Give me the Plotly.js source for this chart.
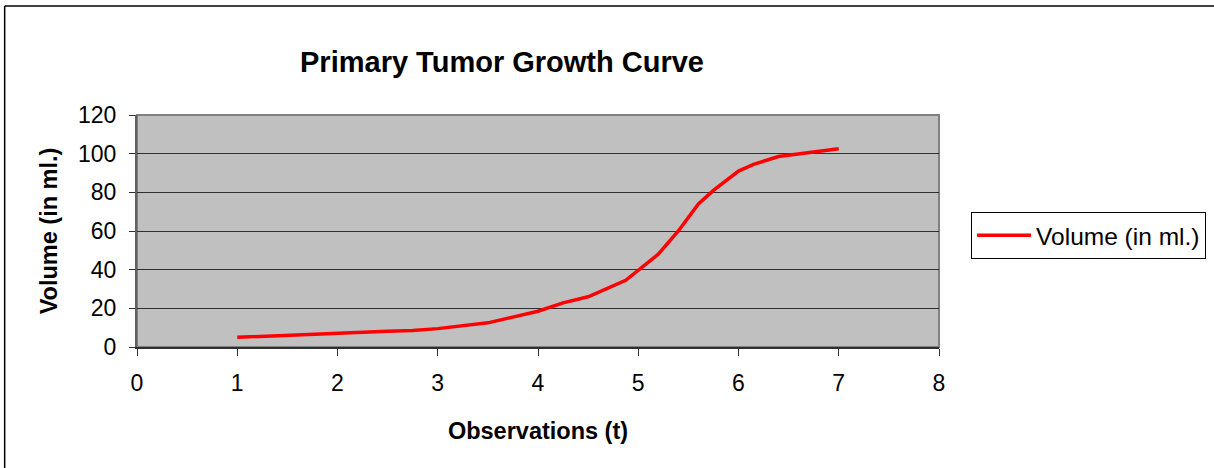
<!DOCTYPE html>
<html>
<head>
<meta charset="utf-8">
<script src="https://cdn.plot.ly/plotly-3.0.1.min.js"></script>
<style>html,body{margin:0;padding:0;background:#fff;}#chart{width:1214px;height:468px;}</style>
</head>
<body>
<div id="chart"></div>
<script>
// Data
var observations = [1, 1.5, 2, 2.5, 2.75, 3, 3.5, 4, 4.25, 4.5, 4.875, 5, 5.2, 5.4, 5.6, 5.75, 6, 6.15, 6.4, 7];
var volumeMl = [5, 6.2, 7.4, 8.2, 8.5, 9.5, 12.5, 18.5, 22.8, 26, 34.5, 39.5, 48, 60, 74, 81, 91, 94.5, 98.5, 102.5];
var seriesName = "Volume (in ml.)";
var chartTitle = "Primary Tumor Growth Curve";
var xTitle = "Observations (t)";
var yTitle = "Volume (in ml.)";

var FONT = '"Liberation Sans", Arial, sans-serif';

var trace = {
  x: observations,
  y: volumeMl,
  type: 'scatter',
  mode: 'lines',
  name: seriesName,
  line: {color: '#FF0000', width: 3.5}
};

var layout = {
  width: 1214,
  height: 468,
  margin: {l: 137, r: 275, t: 115, b: 121, pad: 0, autoexpand: false},
  paper_bgcolor: '#FFFFFF',
  plot_bgcolor: '#C0C0C0',
  font: {family: FONT, color: '#000', size: 20},
  showlegend: true,
  title: {
    text: '<b>' + chartTitle + '</b>',
    font: {family: FONT, size: 29, color: '#000'},
    x: 502 / 1214, xanchor: 'center',
    y: 1 - 62 / 468, yanchor: 'middle'
  },
  xaxis: {
    range: [0, 8],
    dtick: 1, tick0: 0,
    showgrid: false,
    zeroline: false,
    showline: true, linecolor: '#303030', linewidth: 2,
    ticks: 'outside', ticklen: 7, tickwidth: 1, tickcolor: '#303030',
    tickfont: {family: FONT, size: 23, color: '#000'},
    ticklabelstandoff: 7,
    title: {text: '<b>' + xTitle + '</b>', font: {family: FONT, size: 23.5, color: '#000'}, standoff: 28}
  },
  yaxis: {
    range: [0, 120],
    dtick: 20, tick0: 0,
    showgrid: true, gridcolor: '#303030', gridwidth: 1,
    zeroline: false,
    showline: true, linecolor: '#606060', linewidth: 2,
    ticks: 'outside', ticklen: 6, tickwidth: 1, tickcolor: '#303030',
    tickfont: {family: FONT, size: 23, color: '#000'},
    ticklabelstandoff: 8,
    title: {text: '<b>' + yTitle + '</b>', font: {family: FONT, size: 23.5, color: '#000'}, standoff: 14}
  },
  legend: {
    x: 1.040, xanchor: 'left',
    y: 0.583, yanchor: 'top',
    bgcolor: '#FFFFFF',
    bordercolor: '#000000', borderwidth: 1,
    itemwidth: 54,
    font: {family: FONT, size: 24.5, color: '#000'}
  },
  shapes: [
    {type: 'rect', xref: 'paper', yref: 'paper', x0: 0, x1: 1, y0: 0, y1: 1,
     line: {color: '#808080', width: 2}, fillcolor: 'rgba(0,0,0,0)', layer: 'below'},
    {type: 'line', xref: 'paper', yref: 'paper', x0: -0.165, x1: -0.165, y0: -1, y1: 1.47,
     line: {color: '#000000', width: 1.5}},
    {type: 'line', xref: 'paper', yref: 'paper', x0: -0.165, x1: 1.5, y0: 1.47, y1: 1.47,
     line: {color: '#000000', width: 1.5}}
  ]
};

Plotly.newPlot('chart', [trace], layout, {displayModeBar: false, staticPlot: true});
</script>
</body>
</html>
